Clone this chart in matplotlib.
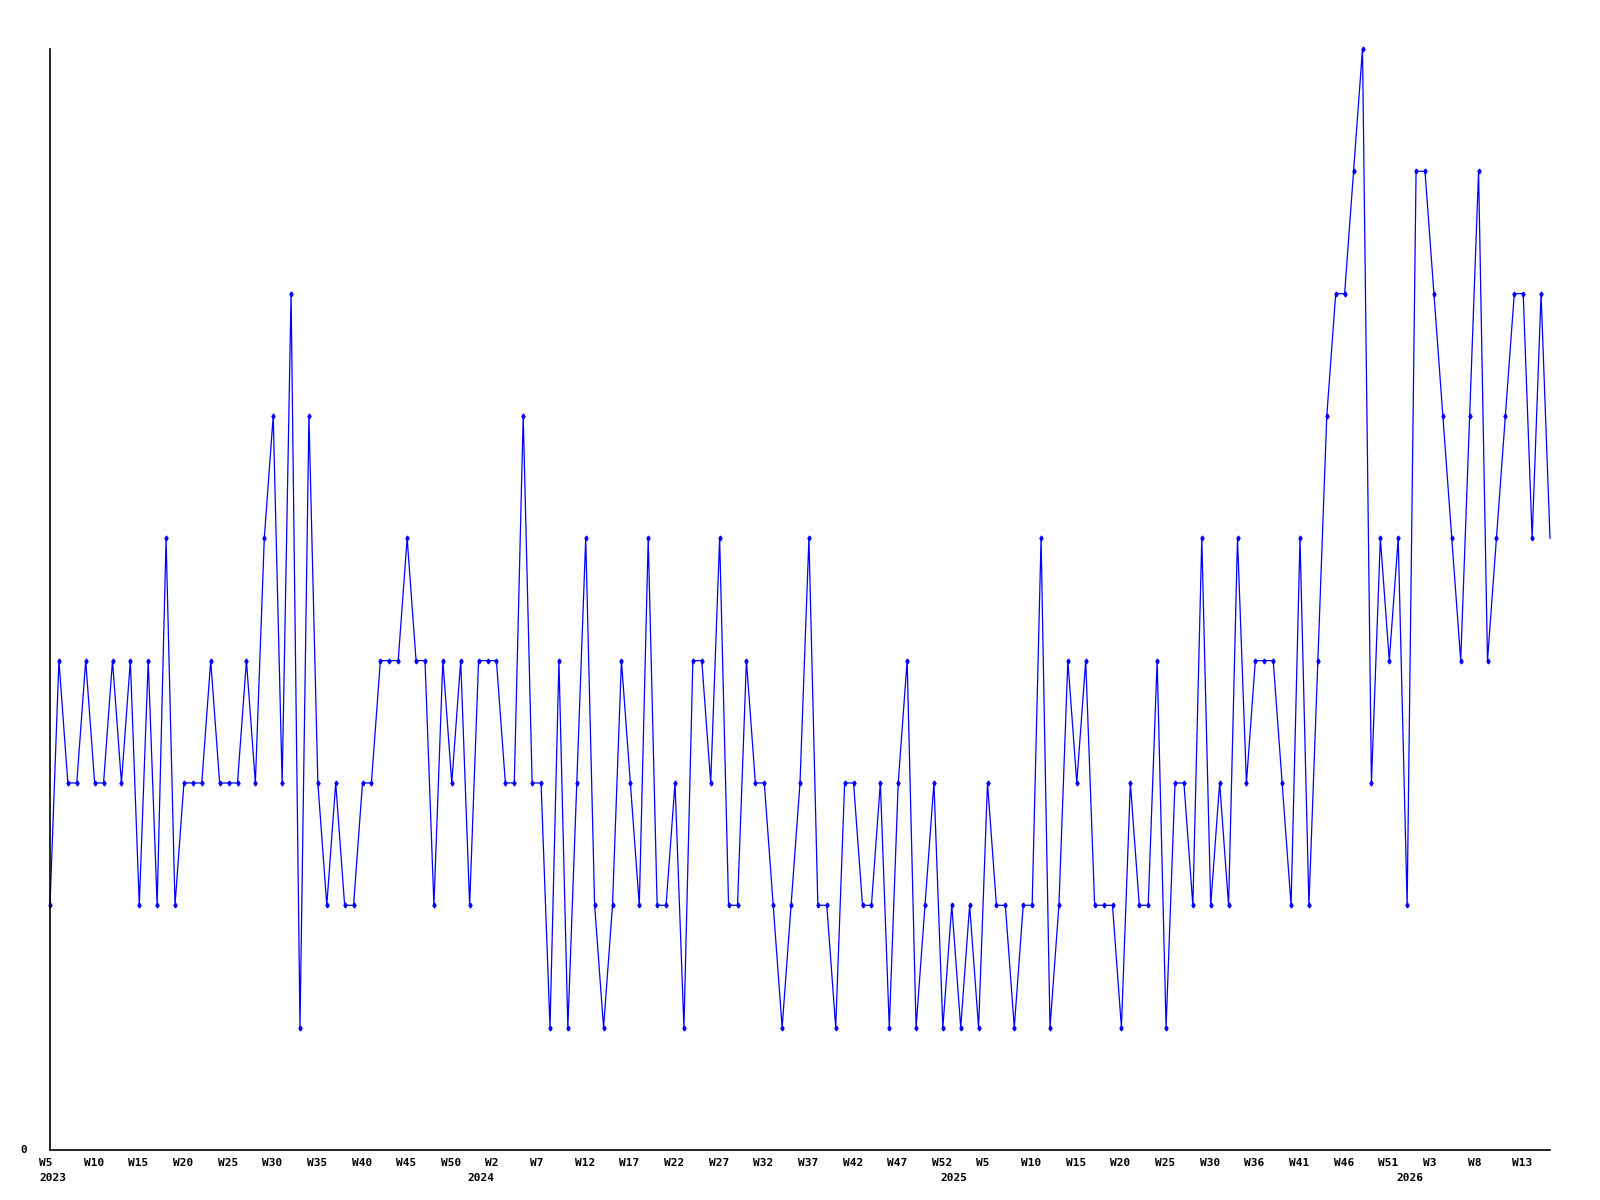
import matplotlib
matplotlib.use("Agg")
import matplotlib.pyplot as plt
import matplotlib.transforms as mtransforms

# weekly counts, 2023 W5 -> 2026 W15
counts = [
    2, 4, 3, 3, 4, 3, 3, 4, 3, 4,
    2, 4, 2, 5, 2, 3, 3, 3, 4, 3,
    3, 3, 4, 3, 5, 6, 3, 7, 1, 6,
    3, 2, 3, 2, 2, 3, 3, 4, 4, 4,
    5, 4, 4, 2, 4, 3, 4, 2, 4, 4,
    4, 3, 3, 6, 3, 3, 1, 4, 1, 3,
    5, 2, 1, 2, 4, 3, 2, 5, 2, 2,
    3, 1, 4, 4, 3, 5, 2, 2, 4, 3,
    3, 2, 1, 2, 3, 5, 2, 2, 1, 3,
    3, 2, 2, 3, 1, 3, 4, 1, 2, 3,
    1, 2, 1, 2, 1, 3, 2, 2, 1, 2,
    2, 5, 1, 2, 4, 3, 4, 2, 2, 2,
    1, 3, 2, 2, 4, 1, 3, 3, 2, 5,
    2, 3, 2, 5, 3, 4, 4, 4, 3, 2,
    5, 2, 4, 6, 7, 7, 8, 9, 3, 5,
    4, 5, 2, 8, 8, 7, 6, 5, 4, 6,
    8, 4, 5, 6, 7, 7, 5, 7, 5,
]

# a label every 5 weeks
week_labels = [
    "W5", "W10", "W15", "W20", "W25", "W30", "W35", "W40", "W45", "W50",
    "W2", "W7", "W12", "W17", "W22", "W27", "W32", "W37", "W42", "W47",
    "W52", "W5", "W10", "W15", "W20", "W25", "W30", "W36", "W41", "W46",
    "W51", "W3", "W8", "W13",
]
years = ["2023", "2024", "2025", "2026"]
year_pos = [0, 48, 101, 152]

font = dict(family="DejaVu Sans Mono", fontweight="bold", fontsize=8)

fig = plt.figure(figsize=(16, 12), dpi=100)
ax = fig.add_axes([0.03125, 0.0417, 0.9375, 0.9175])

x = list(range(len(counts)))
# last (current) week has no marker
ax.plot(x, counts, color="#0000ff", linewidth=0.9, marker="d", markersize=2.5,
        markevery=list(range(len(counts) - 1)), clip_on=False)

ax.set_xlim(0, len(counts) - 1)
ax.set_ylim(0, 9)
ax.spines["top"].set_visible(False)
ax.spines["right"].set_visible(False)
ax.spines["left"].set_linewidth(1.2)
ax.spines["bottom"].set_linewidth(1.2)
ax.set_xticks([])
ax.set_yticks([])

# x labels, drawn left aligned just left of their point
base = mtransforms.blended_transform_factory(ax.transData, ax.transAxes)
wk_tr = mtransforms.offset_copy(base, fig=fig, x=-11, y=-13, units="dots")
yr_tr = mtransforms.offset_copy(base, fig=fig, x=-11, y=-28, units="dots")
for i, lab in enumerate(week_labels):
    ax.text(i * 5, 0, lab, transform=wk_tr, ha="left", va="center", **font)
for p, lab in zip(year_pos, years):
    ax.text(p, 0, lab, transform=yr_tr, ha="left", va="center", **font)

zero_tr = mtransforms.offset_copy(ax.transAxes, fig=fig, x=-30, y=0, units="dots")
ax.text(0, 0, "0", transform=zero_tr, ha="left", va="center", **font)

fig.savefig("out.png", dpi=100, facecolor="white")
